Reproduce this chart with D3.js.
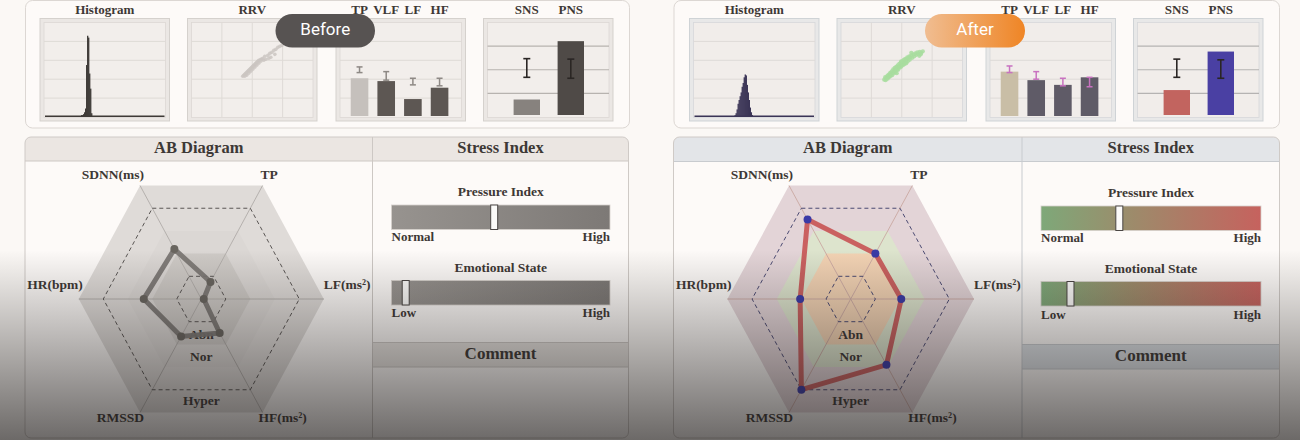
<!DOCTYPE html>
<html><head><meta charset="utf-8">
<script src="https://cdn.jsdelivr.net/npm/d3@7"></script>
<style>
html,body{margin:0;padding:0;background:#fbf8f5;}
svg{display:block;}
text{font-family:"Liberation Serif",serif;font-weight:bold;fill:#3d3835;}
</style></head><body><svg id="c" width="1300" height="440"></svg>
<script>
// ---------------- DATA ----------------
const panelNames = ["Before", "After"];
const miniTitles = ["Histogram", "RRV"];

const histBinsBefore = [760,770,780,790,800,810,820,830,840,850,860,870,880];
const histCountsBefore = [1,2,2,3,5,9,55,86,84,46,30,4,1];
const histBinsAfter = [810,820,830,840,850,860,870,880,890,900,910,920,930,940,950,960,970,980];
const histCountsAfter = [2,4,8,14,18,22,26,32,36,42,45,44,34,26,18,10,5,2];

const rrBefore = [[910,810],[920,820],[930,830],[940,830],[940,840],[950,850],[960,860],[970,860],[970,870],[980,880],[990,890],[1000,890],[1000,900],[1010,910],[1020,910],[1020,920],[1030,930],[1040,930],[1040,940],[1050,950],[1060,950],[1060,960],[1070,970],[1080,970],[1090,980],[1100,980],[1110,990],[1090,960],[1070,940],[1050,920],[1030,900],[1010,880],[990,860],[970,840],[950,820],[930,810],[1120,970],[1140,980],[1130,1010],[1160,1020],[1180,1040],[1200,1050],[1190,1000],[1220,1070],[1240,1080],[1260,1100],[1280,1110],[1300,1120],[1230,1030],[1170,990]];
const rrAfter = [[830,775],[840,800],[845,770],[850,790],[860,810],[865,785],[870,820],[875,800],[880,830],[885,805],[890,845],[895,815],[900,835],[905,860],[910,820],[915,850],[920,880],[925,840],[930,865],[935,895],[940,850],[945,880],[950,905],[955,870],[960,890],[965,920],[970,875],[975,905],[980,935],[985,895],[990,915],[995,950],[1000,905],[1005,930],[1010,960],[1015,920],[1020,945],[1025,975],[1030,930],[1035,960],[1040,985],[1045,950],[1050,975],[1060,1000],[1065,960],[1070,990],[1080,1010],[1085,975],[1090,1000],[1100,1020],[1110,995],[1120,1030],[1130,1010],[1140,1040],[1150,1025],[1160,1050],[1170,1035],[1185,1055],[1200,1045],[1215,1060],[1180,1015],[1195,1030],[955,840],[1000,960],[1050,940],[1100,1045]];

const bandLabels = ["TP","VLF","LF","HF"];
const bandBefore = [41,38,19,31];
const bandBeforeErrLow = [47,39,34,33];
const bandBeforeErrHigh = [53,48,41,41];
const bandAfter = [48,39,34,42];
const bandAfterErrLow = [47,40,33,32];
const bandAfterErrHigh = [54,48,41,42];

const ansLabels = ["SNS","PNS"];
const ansBefore = [0.74, 3.21];
const ansBeforeErrLow = [1.68, 1.64];
const ansBeforeErrHigh = [2.47, 2.45];
const ansAfter = [1.14, 2.77];
const ansAfterErrLow = [1.68, 1.64];
const ansAfterErrHigh = [2.45, 2.42];

const radarAxes = ["SDNN(ms)","TP","LF(ms²)","HF(ms²)","RMSSD","HR(bpm)"];
const radarBefore = [0.44, 0.15, 0.02, 0.30, 0.33, 0.47];
const radarAfter = [0.70, 0.40, 0.41, 0.58, 0.80, 0.41];
const zoneLabels = ["Abn","Nor","Hyper"];

const stressTitles = ["Pressure Index","Emotional State"];
const stressLow = ["Normal","Low"];
const stressHigh = ["High","High"];
const stressBefore = [0.47, 0.065];
const stressAfter = [0.356, 0.134];

const sectionTitles = ["AB Diagram","Stress Index","Comment"];

// ---------------- LAYOUT / STYLE ----------------
const geo = [
  {card:[25,629], boxX:[40,187.5,336,483.5], bottom:[25,372.5,628.5], hdr:161,
   radar:{cx:201.3, cy:299, rx:122.5, ry:131}, bar:[391.5,610], barY:[205,280.5],
   titleY:[193.3,269.3], endY:[238.5,314.5], comment:[342.5,367], pill:[275.5,375]},
  {card:[673.5,1279], boxX:[689.5,837,986,1133.5], bottom:[673.5,1022,1279.5], hdr:161.5,
   radar:{cx:850.7, cy:299, rx:123.3, ry:131}, bar:[1041,1261], barY:[206,281.5],
   titleY:[194.3,270.3], endY:[239.5,316], comment:[344.5,369], pill:[925,1025]}
];
const styles = [
  {frame:"#ebe7e4", frameStroke:"#d5d1cd", inner:"#f2eeeb", innerStroke:"#dcd8d4",
   grid:"#dedad6", ansGrid:"#b7b3af", hist:"#3e3a37", rr:"#cbc6c2",
   band:["#c5c0bc","#5d5753","#5d5753","#5d5753"], bandErr:"#8e8985",
   ans:["#87827e","#4f4a47"], ansErr:"#2a2624",
   zones:["#dfdbd8","#dbd7d4","#cecac6"], axis:"#b0aca8", dash:"#5a5654",
   line:"#7b7774", dot:"#69655f", header:"#ebe6e2", commentHeader:"#e6e2de", headerStroke:"#cdc8c4",
   stops:[[0,"#97938f"],[1,"#7d7976"]]},
  {frame:"#e8e8e8", frameStroke:"#cfd3d6", inner:"#f1edea", innerStroke:"#d6d8da",
   grid:"#dedad7", ansGrid:"#b5b3b2", hist:"#3a3456", rr:"#a8dd9f",
   band:["#c9bea6","#5f5b67","#5f5b67","#5f5b67"], bandErr:"#c872c0",
   ans:["#c2645f","#4a40a3"], ansErr:"#2a2624",
   zones:["#e3d4d7","#dde4cd","#f2d2b3"], axis:"#c9a8a2", dash:"#4b4a72",
   line:"#c85a5a", dot:"#3a3aa6", header:"#e3e5e8", commentHeader:"#dce0e4", headerStroke:"#c8cbcf",
   stops:[[0,"#7ea879"],[0.4,"#9c8c6b"],[1,"#c6625e"]]}
];
const dataSets = [
  {hb:histBinsBefore, hc:histCountsBefore, rr:rrBefore, band:bandBefore, bl:bandBeforeErrLow, bh:bandBeforeErrHigh,
   ans:ansBefore, al:ansBeforeErrLow, ah:ansBeforeErrHigh, radar:radarBefore, stress:stressBefore},
  {hb:histBinsAfter, hc:histCountsAfter, rr:rrAfter, band:bandAfter, bl:bandAfterErrLow, bh:bandAfterErrHigh,
   ans:ansAfter, al:ansAfterErrLow, ah:ansAfterErrHigh, radar:radarAfter, stress:stressAfter}
];

// ---------------- DRAW ----------------
const svg = d3.select("#c");
const defs = svg.append("defs");
svg.append("rect").attr("width",1300).attr("height",440).attr("fill","#fbf8f5");

const BW = 129.5, IY0 = 22.5, IY1 = 117;

panelNames.forEach((name, p) => {
  const G = geo[p], S = styles[p], D = dataSets[p];
  const g = svg.append("g");

  // top card
  g.append("rect").attr("x",G.card[0]+0.5).attr("y",0.5).attr("width",G.card[1]-G.card[0]).attr("height",127.5)
    .attr("rx",7).attr("fill","#fdfaf8").attr("stroke","#dcd7d3");

  // mini boxes
  G.boxX.forEach(bx => {
    g.append("rect").attr("x",bx).attr("y",18.5).attr("width",BW).attr("height",102.5)
      .attr("fill",S.frame).attr("stroke",S.frameStroke);
    g.append("rect").attr("x",bx+4).attr("y",IY0).attr("width",BW-8).attr("height",IY1-IY0+0.5)
      .attr("fill",S.inner).attr("stroke",S.innerStroke).attr("stroke-width",0.8);
  });
  const inner = k => [G.boxX[k]+4, G.boxX[k]+BW-4];

  miniTitles.forEach((t,k) => {
    g.append("text").attr("x",G.boxX[k]+BW/2).attr("y",11.5).attr("text-anchor","middle")
      .attr("dominant-baseline","middle").attr("font-size",13).text(t);
  });

  // ---- Histogram ----
  {
    const [x0,x1] = inner(0);
    const x = d3.scaleLinear().domain([400,1600]).range([x0,x1]);
    const y = d3.scaleLinear().domain([0,100]).range([IY1,IY0]);
    g.append("g").selectAll("line").data([20,40,60,80]).join("line")
      .attr("x1",x0).attr("x2",x1).attr("y1",d=>y(d)).attr("y2",d=>y(d)).attr("stroke",S.grid);
    g.append("g").selectAll("rect").data(D.hb.map((b,i)=>[b,D.hc[i]])).join("rect")
      .attr("x",d=>x(d[0]-5)).attr("width",d=>x(d[0]+5)-x(d[0]-5)+0.3)
      .attr("y",d=>y(d[1])).attr("height",d=>y(0)-y(d[1])).attr("fill",S.hist);
    g.append("line").attr("x1",x0+1).attr("x2",x1-1).attr("y1",y(0)-0.8).attr("y2",y(0)-0.8)
      .attr("stroke",S.hist).attr("stroke-width",1.6);
  }

  // ---- RRV ----
  {
    const [x0,x1] = inner(1);
    const x = d3.scaleLinear().domain([400,1610]).range([x0,x1]);
    const y = d3.scaleLinear().domain([400,1350]).range([IY1,IY0]);
    g.append("g").selectAll("line").data(d3.range(1,5).map(k=>400+k*190)).join("line")
      .attr("x1",x0).attr("x2",x1).attr("y1",d=>y(d)).attr("y2",d=>y(d)).attr("stroke",S.grid);
    g.append("g").selectAll("line").data(d3.range(1,4).map(k=>400+k*302.5)).join("line")
      .attr("y1",IY0).attr("y2",IY1).attr("x1",d=>x(d)).attr("x2",d=>x(d)).attr("stroke",S.grid);
    g.append("g").selectAll("circle").data(D.rr).join("circle")
      .attr("cx",d=>x(d[0])).attr("cy",d=>y(d[1])).attr("r",p===0?1.8:2.1).attr("fill",S.rr).attr("opacity",0.85);
  }

  // ---- Band power bars ----
  {
    const [x0,x1] = inner(2);
    const x = d3.scaleBand().domain(bandLabels).range([x0+6.2,x0+112.9]).paddingInner(0.34).paddingOuter(0.17);
    const y = d3.scaleLinear().domain([0,100]).range([IY1,IY0]);
    g.append("g").selectAll("line").data([20,40,60,80]).join("line")
      .attr("x1",x0).attr("x2",x1).attr("y1",d=>y(d)).attr("y2",d=>y(d)).attr("stroke",S.grid);
    g.append("g").selectAll("rect").data(bandLabels).join("rect")
      .attr("x",d=>x(d)).attr("width",x.bandwidth()).attr("y",(d,i)=>y(D.band[i]))
      .attr("height",(d,i)=>y(0)-y(D.band[i])-1).attr("fill",(d,i)=>S.band[i]);
    bandLabels.forEach((lab,i)=>{
      const cx = x(lab)+x.bandwidth()/2;
      g.append("text").attr("x",cx).attr("y",11.5).attr("text-anchor","middle")
        .attr("dominant-baseline","middle").attr("font-size",13).text(lab);
      const eg = g.append("g").attr("stroke",S.bandErr).attr("stroke-width",1.5);
      eg.append("line").attr("x1",cx).attr("x2",cx).attr("y1",y(D.bh[i])).attr("y2",y(D.bl[i]));
      eg.append("line").attr("x1",cx-3).attr("x2",cx+3).attr("y1",y(D.bh[i])).attr("y2",y(D.bh[i]));
      eg.append("line").attr("x1",cx-3).attr("x2",cx+3).attr("y1",y(D.bl[i])).attr("y2",y(D.bl[i]));
    });
  }

  // ---- SNS / PNS ----
  {
    const [x0,x1] = inner(3);
    const x = d3.scaleBand().domain(ansLabels).range([x0+17.3,x0+105.3]).paddingInner(0.4).paddingOuter(0.2);
    const y = d3.scaleLinear().domain([0,4]).range([IY1,IY0]);
    g.append("g").selectAll("line").data([1,2,3]).join("line")
      .attr("x1",x0).attr("x2",x1).attr("y1",d=>y(d)).attr("y2",d=>y(d)).attr("stroke",S.ansGrid).attr("stroke-width",1.1);
    g.append("g").selectAll("rect").data(ansLabels).join("rect")
      .attr("x",d=>x(d)).attr("width",x.bandwidth()).attr("y",(d,i)=>y(D.ans[i]))
      .attr("height",(d,i)=>y(0)-y(D.ans[i])-2).attr("fill",(d,i)=>S.ans[i]);
    ansLabels.forEach((lab,i)=>{
      const cx = x(lab)+x.bandwidth()/2;
      g.append("text").attr("x",cx).attr("y",11.5).attr("text-anchor","middle")
        .attr("dominant-baseline","middle").attr("font-size",13).text(lab);
      const eg = g.append("g").attr("stroke",S.ansErr).attr("stroke-width",1.6);
      eg.append("line").attr("x1",cx).attr("x2",cx).attr("y1",y(D.ah[i])).attr("y2",y(D.al[i]));
      eg.append("line").attr("x1",cx-3.5).attr("x2",cx+3.5).attr("y1",y(D.ah[i])).attr("y2",y(D.ah[i]));
      eg.append("line").attr("x1",cx-3.5).attr("x2",cx+3.5).attr("y1",y(D.al[i])).attr("y2",y(D.al[i]));
    });
  }

  // ---- Bottom card ----
  const [bx0,bxm,bx1] = G.bottom;
  const clipId = "clip"+p;
  defs.append("clipPath").attr("id",clipId).append("rect")
    .attr("x",bx0).attr("y",137).attr("width",bx1-bx0).attr("height",301).attr("rx",6);
  const cg = g.append("g").attr("clip-path",`url(#${clipId})`);
  cg.append("rect").attr("x",bx0).attr("y",137).attr("width",bx1-bx0).attr("height",301).attr("fill","#fdfaf8");
  cg.append("rect").attr("x",bx0).attr("y",137).attr("width",bx1-bx0).attr("height",G.hdr-137).attr("fill",S.header);
  cg.append("line").attr("x1",bx0).attr("x2",bx1).attr("y1",G.hdr).attr("y2",G.hdr).attr("stroke",S.headerStroke);
  cg.append("rect").attr("x",bxm).attr("y",G.comment[0]).attr("width",bx1-bxm).attr("height",G.comment[1]-G.comment[0])
    .attr("fill",S.commentHeader);
  cg.append("line").attr("x1",bxm).attr("x2",bx1).attr("y1",G.comment[0]).attr("y2",G.comment[0]).attr("stroke",S.headerStroke);
  cg.append("line").attr("x1",bxm).attr("x2",bx1).attr("y1",G.comment[1]).attr("y2",G.comment[1]).attr("stroke",S.headerStroke);
  cg.append("line").attr("x1",bxm).attr("x2",bxm).attr("y1",137).attr("y2",438).attr("stroke",S.headerStroke);
  g.append("rect").attr("x",bx0).attr("y",137).attr("width",bx1-bx0).attr("height",301).attr("rx",6)
    .attr("fill","none").attr("stroke","#cfcac6");

  g.append("text").attr("x",(bx0+bxm)/2).attr("y",(137+G.hdr)/2).attr("text-anchor","middle")
    .attr("dominant-baseline","middle").attr("font-size",16.5).text(sectionTitles[0]);
  g.append("text").attr("x",(bxm+bx1)/2).attr("y",(137+G.hdr)/2).attr("text-anchor","middle")
    .attr("dominant-baseline","middle").attr("font-size",16.5).text(sectionTitles[1]);
  g.append("text").attr("x",(bxm+bx1)/2).attr("y",(G.comment[0]+G.comment[1])/2).attr("text-anchor","middle")
    .attr("dominant-baseline","middle").attr("font-size",17).text(sectionTitles[2]);

  // ---- Radar ----
  {
    const R = G.radar;
    const ang = d3.scaleLinear().domain([0,6]).range([-2*Math.PI/3, -2*Math.PI/3 + 2*Math.PI]);
    const rx = d3.scaleLinear().domain([0,1]).range([0,R.rx]);
    const ry = d3.scaleLinear().domain([0,1]).range([0,R.ry]);
    const pt = (i,v) => [R.cx + Math.cos(ang(i))*rx(v), R.cy + Math.sin(ang(i))*ry(v)];
    const hex = v => d3.range(6).map(i=>pt(i,v));
    const line = d3.line().curve(d3.curveLinearClosed);
    const rg = g.append("g");
    [[1,S.zones[0]],[0.6,S.zones[1]],[0.4,S.zones[2]]].forEach(([v,c])=>{
      rg.append("path").attr("d",line(hex(v))).attr("fill",c);
    });
    rg.selectAll("line.ax").data(d3.range(6)).join("line").attr("class","ax")
      .attr("x1",R.cx).attr("y1",R.cy).attr("x2",i=>pt(i,1)[0]).attr("y2",i=>pt(i,1)[1])
      .attr("stroke",S.axis).attr("stroke-width",0.9);
    [0.8,0.2].forEach(v=>{
      rg.append("path").attr("d",line(hex(v))).attr("fill","none").attr("stroke",S.dash)
        .attr("stroke-width",1).attr("stroke-dasharray","4,3");
    });
    const zf = [0.325,0.515,0.91];
    zoneLabels.forEach((z,k)=>{
      rg.append("text").attr("x",R.cx).attr("y",R.cy+ry(zf[k])*Math.sin(Math.PI/3)).attr("text-anchor","middle")
        .attr("dominant-baseline","middle").attr("font-size",13.5).text(z);
    });
    const lab = [["end",4,-10],["start",-2,-10],["start",0,-13],["start",-4,6],["end",4,6],["end",4,-13]];
    radarAxes.forEach((a,i)=>{
      const [vx,vy] = pt(i,1);
      rg.append("text").attr("x",vx+lab[i][1]).attr("y",vy+lab[i][2]).attr("text-anchor",lab[i][0])
        .attr("dominant-baseline","middle").attr("font-size",13.5).text(a);
    });
    const pts = D.radar.map((v,i)=>pt(i,v));
    rg.append("path").attr("d",line(pts)).attr("fill","none").attr("stroke",S.line)
      .attr("stroke-width",5).attr("stroke-linejoin","miter").attr("opacity",0.95);
    rg.selectAll("circle").data(pts).join("circle").attr("cx",d=>d[0]).attr("cy",d=>d[1]).attr("r",4).attr("fill",S.dot);
  }

  // ---- Stress bars ----
  {
    const gradId = "sg"+p;
    const lg = defs.append("linearGradient").attr("id",gradId).attr("x1","0%").attr("x2","100%").attr("y1","0%").attr("y2","0%");
    S.stops.forEach(([o,c])=>lg.append("stop").attr("offset",o).attr("stop-color",c));
    const x = d3.scaleLinear().domain([0,1]).range(G.bar);
    const h = 24.5;
    stressTitles.forEach((t,k)=>{
      g.append("text").attr("x",(G.bar[0]+G.bar[1])/2).attr("y",G.titleY[k]).attr("text-anchor","middle")
        .attr("dominant-baseline","middle").attr("font-size",13.5).text(t);
      g.append("rect").attr("x",G.bar[0]).attr("y",G.barY[k]).attr("width",G.bar[1]-G.bar[0]).attr("height",h)
        .attr("fill",`url(#${gradId})`).attr("stroke","#d6d1cd").attr("stroke-width",0.8);
      g.append("rect").attr("x",x(D.stress[k])-3.5).attr("y",G.barY[k]).attr("width",7).attr("height",h)
        .attr("fill","#fbfaf8").attr("stroke","#4a4644").attr("stroke-width",1);
      g.append("text").attr("x",G.bar[0]).attr("y",G.endY[k]).attr("text-anchor","start")
        .attr("dominant-baseline","middle").attr("font-size",13).text(stressLow[k]);
      g.append("text").attr("x",G.bar[1]).attr("y",G.endY[k]).attr("text-anchor","end")
        .attr("dominant-baseline","middle").attr("font-size",13).text(stressHigh[k]);
    });
  }
});

// ---- darkening overlay ----
const og = defs.append("linearGradient").attr("id","ov").attr("gradientUnits","userSpaceOnUse")
  .attr("x1",0).attr("x2",0).attr("y1",250).attr("y2",440);
og.append("stop").attr("offset",0).attr("stop-color","#1c1918").attr("stop-opacity",0);
og.append("stop").attr("offset",1).attr("stop-color","#1c1918").attr("stop-opacity",0.64);
svg.append("rect").attr("x",0).attr("y",250).attr("width",1300).attr("height",190).attr("fill","url(#ov)");

// ---- pills ----
const pg = defs.append("linearGradient").attr("id","pillG").attr("x1","0%").attr("x2","100%");
pg.append("stop").attr("offset",0).attr("stop-color","#f0bd91");
pg.append("stop").attr("offset",1).attr("stop-color","#ef8525");
panelNames.forEach((name,p)=>{
  const [a,b] = geo[p].pill;
  svg.append("rect").attr("x",a).attr("y",14).attr("width",b-a).attr("height",33.5).attr("rx",16.75)
    .attr("fill",p===0?"#575352":"url(#pillG)");
  svg.append("text").attr("x",(a+b)/2).attr("y",31).attr("text-anchor","middle").attr("dominant-baseline","middle")
    .style("font-family","Roboto, sans-serif").style("font-weight","400").style("fill","#ffffff")
    .attr("font-size",17).text(name);
});
</script></body></html>
